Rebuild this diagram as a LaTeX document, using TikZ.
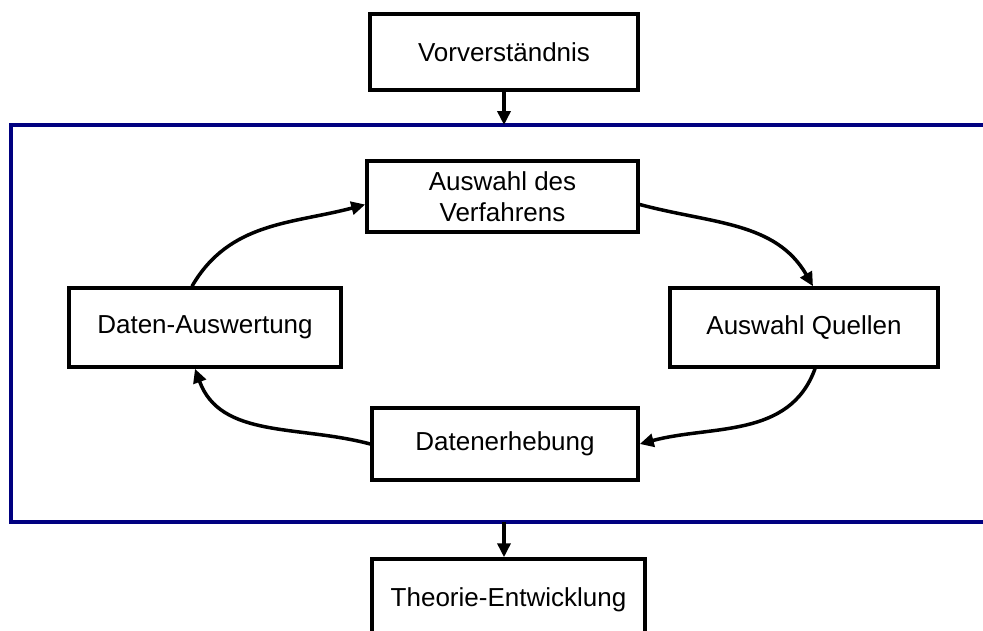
\documentclass[tikz,border=0pt]{standalone}
\usepackage{fontspec}
\setmainfont{Liberation Sans}
\usetikzlibrary{arrows.meta}
\definecolor{frameblue}{HTML}{000080}
\begin{document}
\begin{tikzpicture}[x=1pt,y=-1pt,
  stepbox/.style={draw=black, line width=3.5pt, rectangle, align=center, inner sep=0pt,
    font=\fontsize{26}{31}\selectfont},
  conn/.style={line width=3.5pt, -{Triangle[length=14pt,width=13pt]}}]
\useasboundingbox[fill=white] (0,0) rectangle (983,630);
% blue frame
\draw[frameblue, line width=4pt] (990,125) -- (11,125) -- (11,522) -- (990,522);
\coordinate (ftop) at (504,125);
\coordinate (fbot) at (504,522);
% boxes
\node[stepbox, minimum width=268pt, minimum height=76pt] (vor) at (504,52) {Vorverständnis};
\node[stepbox, minimum width=271pt, minimum height=71pt] (verf) at (502.5,196.5) {Auswahl des\\Verfahrens};
\node[stepbox, minimum width=272pt, minimum height=79pt] (ausw) at (205,327.5) {Daten-Auswertung};
\node[stepbox, minimum width=268pt, minimum height=79pt] (quel) at (804,327.5) {Auswahl Quellen};
\node[stepbox, minimum width=266pt, minimum height=72pt] (erheb) at (505,444) {Datenerhebung};
\node[stepbox, minimum width=273pt, minimum height=82pt] (theo) at (508.5,600) {Theorie-Entwicklung};
% connectors
\draw[conn] (vor.south) -- (ftop);
\draw[conn] (fbot) -- (fbot |- theo.north);
\draw[conn] ([xshift=-13pt]ausw.north) to[out=60,in=195] ([yshift=-8pt]verf.west);
\draw[conn] ([yshift=-8pt]verf.east) to[out=-15,in=120] ([xshift=9pt]quel.north);
\draw[conn] ([xshift=11pt]quel.south) to[out=-110,in=15] (erheb.east);
\draw[conn] (erheb.west) to[out=165,in=-70] ([xshift=-10pt]ausw.south);
\end{tikzpicture}
\end{document}
